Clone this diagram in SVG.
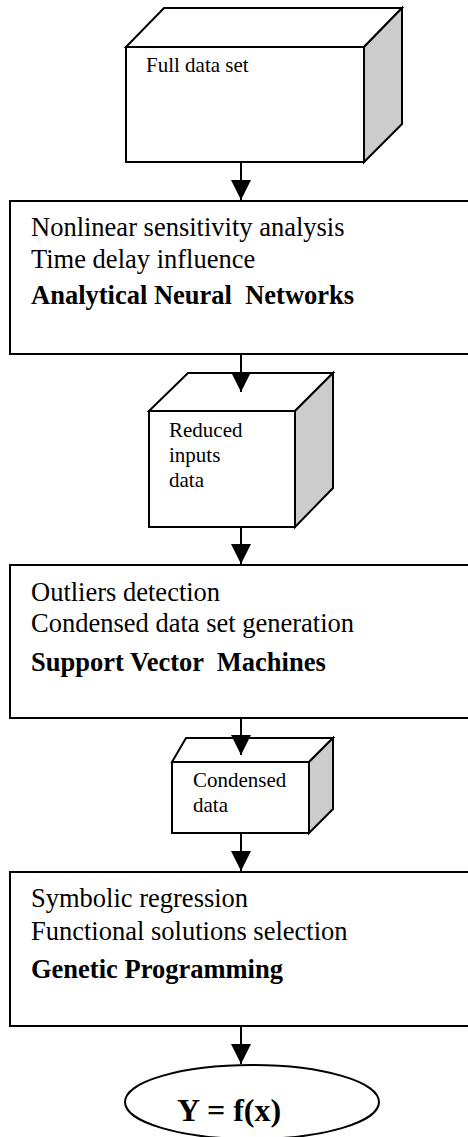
<svg xmlns="http://www.w3.org/2000/svg" width="468" height="1137" viewBox="0 0 468 1137">
<style>
.s{stroke:#000;stroke-width:2;stroke-linejoin:miter}
.face{fill:#fff}
.side{fill:#cccccc}
.t{font-family:"Liberation Serif","Times New Roman",serif;fill:#000}
.bt{font-size:26.5px}
.ct{font-size:21px}
.b{font-weight:bold}
.ln{stroke:#000;stroke-width:2;fill:none}
</style>
<defs>
<marker id="ah" viewBox="0 0 20 20" refX="20" refY="10" markerWidth="20" markerHeight="20" markerUnits="userSpaceOnUse" orient="auto">
<path d="M0,0 L20,10 L0,20 Z" fill="#000"/>
</marker>
</defs>
<rect width="468" height="1137" fill="#fff"/>

<g id="cube-full">
<polygon class="s face" points="126,47 164,8 402,8 364,47"/>
<polygon class="s side" points="364,47 402,8 402,124 364,162"/>
<rect class="s face" x="126" y="47" width="238" height="115"/>
<text class="t ct" x="146" y="72">Full data set</text>
</g>

<g id="box-ann">
<rect class="s face" x="10" y="201" width="470" height="153"/>
<text class="t bt" x="31" y="236">Nonlinear sensitivity analysis</text>
<text class="t bt" x="31" y="268">Time delay influence</text>
<text class="t bt b" x="31" y="304" xml:space="preserve">Analytical Neural  Networks</text>
</g>

<g id="cube-reduced">
<polygon class="s face" points="149,411 188,373 333,373 295,411"/>
<polygon class="s side" points="295,411 333,373 333,488 295,527"/>
<rect class="s face" x="149" y="411" width="146" height="116"/>
<text class="t ct" x="169" y="437">Reduced</text>
<text class="t ct" x="169" y="462">inputs</text>
<text class="t ct" x="169" y="487">data</text>
</g>

<g id="box-svm">
<rect class="s face" x="10" y="565" width="470" height="153"/>
<text class="t bt" x="31" y="601">Outliers detection</text>
<text class="t bt" x="31" y="632">Condensed data set generation</text>
<text class="t bt b" x="31" y="671" xml:space="preserve">Support Vector  Machines</text>
</g>

<g id="cube-condensed">
<polygon class="s face" points="172,762 186,738 333,738 309,762"/>
<polygon class="s side" points="309,762 333,738 333,809 309,833"/>
<rect class="s face" x="172" y="762" width="137" height="71"/>
<text class="t ct" x="193" y="787">Condensed</text>
<text class="t ct" x="193" y="812">data</text>
</g>

<g id="box-gp">
<rect class="s face" x="10" y="872" width="470" height="154"/>
<text class="t bt" x="31" y="907">Symbolic regression</text>
<text class="t bt" x="31" y="940">Functional solutions selection</text>
<text class="t bt b" x="31" y="978">Genetic Programming</text>
</g>

<g id="result">
<ellipse class="s face" cx="252" cy="1102" rx="127" ry="37"/>
<text class="t b" x="177" y="1121" font-size="32">Y = f(x)</text>
</g>

<g id="connectors">
<line class="ln" x1="241" y1="162" x2="241" y2="200" marker-end="url(#ah)"/>
<line class="ln" x1="241" y1="354" x2="241" y2="392" marker-end="url(#ah)"/>
<line class="ln" x1="241" y1="527" x2="241" y2="564" marker-end="url(#ah)"/>
<line class="ln" x1="241" y1="718" x2="241" y2="755" marker-end="url(#ah)"/>
<line class="ln" x1="241" y1="833" x2="241" y2="871" marker-end="url(#ah)"/>
<line class="ln" x1="241" y1="1026" x2="241" y2="1064" marker-end="url(#ah)"/>
</g>
</svg>
